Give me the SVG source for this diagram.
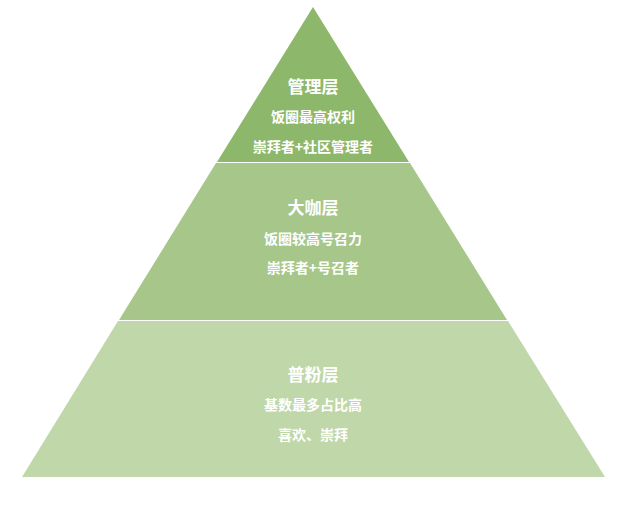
<svg xmlns="http://www.w3.org/2000/svg" width="640" height="518" viewBox="0 0 640 518">
<style>
.t{font-family:"Noto Sans CJK SC","Noto Sans",sans-serif;fill:#fff;font-weight:bold;text-anchor:middle}
.h{font-size:17px}.s{font-size:14px}
</style>
<rect width="640" height="518" fill="#fff"/>
<g id="top"><polygon points="313,7 217,162 409,162" fill="#8DB86B"/>
<text class="t h" x="313" y="93">管理层</text><text class="t s" x="313" y="122">饭圈最高权利</text><text class="t s" x="313" y="152">崇拜者+社区管理者</text></g>
<g id="mid"><polygon points="216,163 410,163 507,320 119,320" fill="#A6C68A"/>
<text class="t h" x="313" y="214">大咖层</text><text class="t s" x="313" y="244">饭圈较高号召力</text><text class="t s" x="313" y="273">崇拜者+号召者</text></g>
<g id="bot"><polygon points="118,321 508,321 605,477 22,477" fill="#BFD7A9"/>
<text class="t h" x="313" y="381">普粉层</text><text class="t s" x="313" y="410">基数最多占比高</text><text class="t s" x="313" y="440">喜欢、崇拜</text></g>
<g id="connectors"/>
</svg>
